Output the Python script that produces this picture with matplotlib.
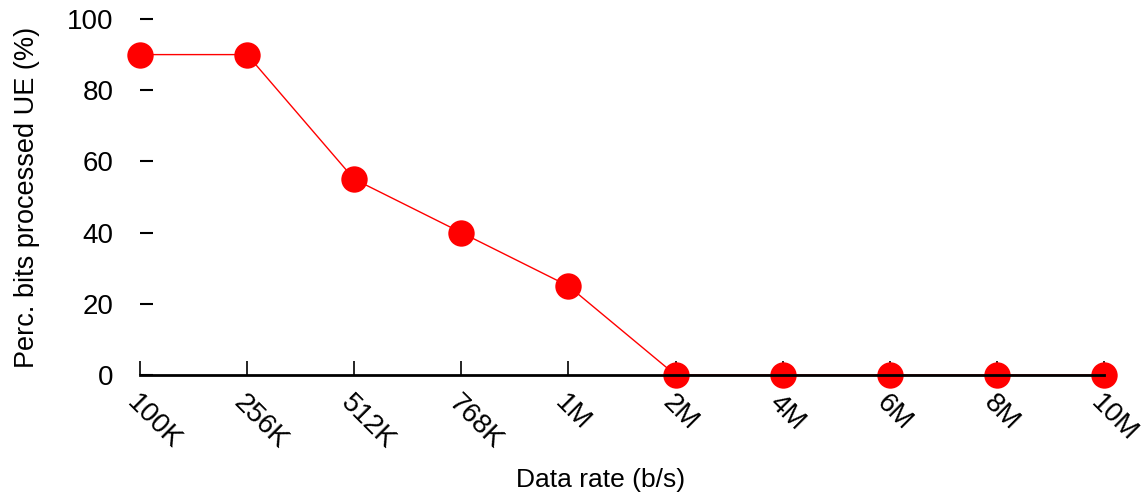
import matplotlib.pyplot as plt

plt.rcParams['font.family'] = ['Liberation Sans', 'DejaVu Sans']

rates = ['100K', '256K', '512K', '768K', '1M', '2M', '4M', '6M', '8M', '10M']
perc = [90, 90, 55, 40, 25, 0, 0, 0, 0, 0]
yticks = [0, 20, 40, 60, 80, 100]

fig = plt.figure(figsize=(11.45, 4.94), dpi=100)
ax = fig.add_axes([140 / 1145, 1 - 375 / 494, 964 / 1145, 356 / 494])

x = list(range(len(rates)))
ax.plot(x, perc, color='red', lw=1, marker='o', markersize=19,
        markeredgewidth=0, clip_on=False)

ax.set_xlim(0, len(rates) - 1)
ax.set_ylim(0, 100)
ax.set_xticks(x)
ax.set_xticklabels(rates, rotation=-45, ha='left', va='top',
                   rotation_mode='anchor', fontsize=20)
ax.set_yticks(yticks)
ax.set_yticklabels([str(v) for v in yticks], fontsize=20)

for s in ['top', 'right', 'left']:
    ax.spines[s].set_visible(False)
ax.spines['bottom'].set_linewidth(2)
ax.tick_params(axis='x', direction='in', length=10, width=1.2, pad=11)
ax.tick_params(axis='y', direction='in', length=9, width=1.5, pad=19)

ax.set_ylabel('Perc. bits processed UE (%)', fontsize=19.5)
ax.yaxis.set_label_coords(-0.104, 0.5)
ax.set_xlabel('Data rate (b/s)', fontsize=19, va='top')
ax.xaxis.set_label_coords(0.478, -0.262)

fig.savefig('out.png', dpi=100)
